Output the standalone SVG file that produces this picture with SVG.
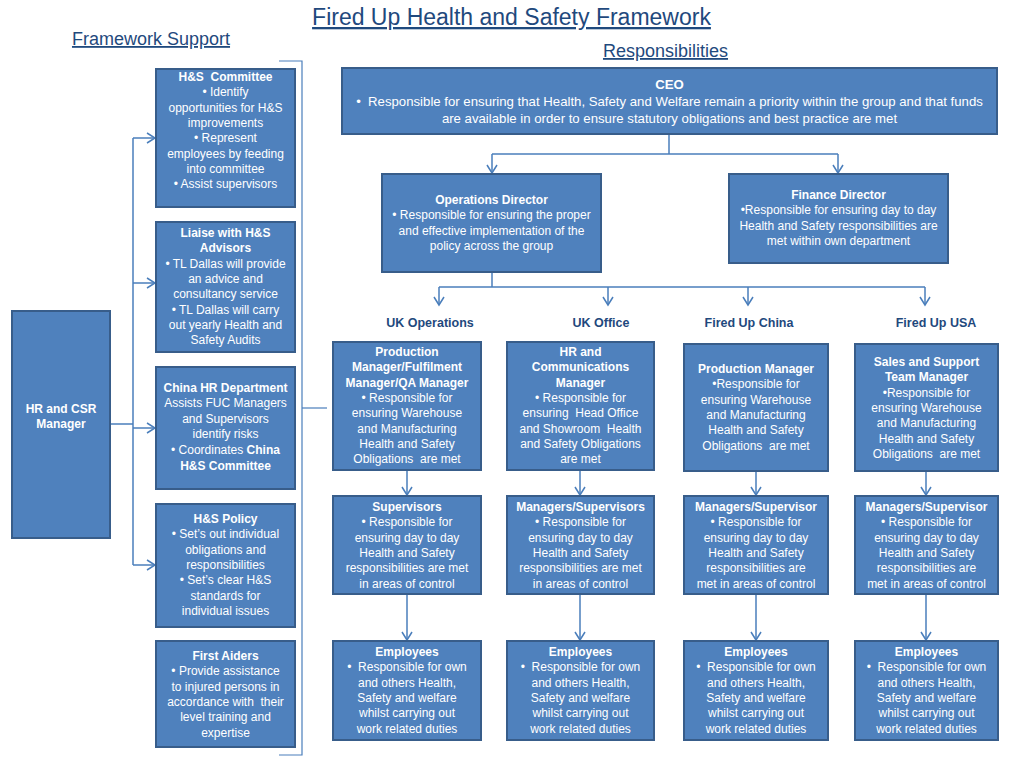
<svg xmlns="http://www.w3.org/2000/svg" width="1024" height="768" viewBox="0 0 1024 768">
<style>
.box{fill:#4F81BD;stroke:#385D8A;stroke-width:2}
.t{font-family:"Liberation Sans",Arial,sans-serif;font-size:12px;fill:#FFFFFF;text-anchor:middle}
.ceo{font-size:13.2px}
.b{font-weight:bold}
.hd{font-family:"Liberation Sans",Arial,sans-serif;fill:#1F497D;text-anchor:middle;text-decoration:underline}
.lbl{font-family:"Liberation Sans",Arial,sans-serif;font-size:12.5px;font-weight:bold;fill:#1F497D;text-anchor:middle}
.c{fill:none;stroke:#4A7EBB;stroke-width:1.5}
.br{fill:none;stroke:#4A7EBB;stroke-width:1.2}
</style>
<defs>
<marker id="ah" markerUnits="userSpaceOnUse" markerWidth="12" markerHeight="12" viewBox="0 0 12 12" refX="10" refY="6" orient="auto">
<path d="M2,1 L10,6 L2,11" fill="none" stroke="#4A7EBB" stroke-width="1.5"/>
</marker>
</defs>
<rect width="1024" height="768" fill="#FFFFFF"/>
<g id="titles">
<text class="hd" x="511.5" y="25" style="font-size:23px">Fired Up Health and Safety Framework</text>
<text class="hd" x="151" y="45" style="font-size:18px">Framework Support</text>
<text class="hd" x="665.5" y="57" style="font-size:18px">Responsibilities</text>
</g>
<g id="connectors">
<polyline class="br" points="279,61 302,61 302,755 279,755"/>
<line class="br" x1="302" y1="408" x2="327" y2="408"/>
<polyline class="c" points="110,424 133,424"/>
<line class="c" x1="133" y1="138" x2="133" y2="565"/>
<line class="c" x1="133" y1="138" x2="155" y2="138" marker-end="url(#ah)"/>
<line class="c" x1="133" y1="283" x2="155" y2="283" marker-end="url(#ah)"/>
<line class="c" x1="133" y1="428" x2="155" y2="428" marker-end="url(#ah)"/>
<line class="c" x1="133" y1="565" x2="155" y2="565" marker-end="url(#ah)"/>
<line class="c" x1="669" y1="134" x2="669" y2="154"/>
<line class="c" x1="492" y1="154" x2="838" y2="154"/>
<line class="c" x1="492" y1="154" x2="492" y2="173" marker-end="url(#ah)"/>
<line class="c" x1="838" y1="154" x2="838" y2="173" marker-end="url(#ah)"/>
<line class="c" x1="492" y1="272" x2="492" y2="287"/>
<line class="c" x1="439" y1="287" x2="925" y2="287"/>
<line class="c" x1="439" y1="287" x2="439" y2="305" marker-end="url(#ah)"/>
<line class="c" x1="608" y1="287" x2="608" y2="305" marker-end="url(#ah)"/>
<line class="c" x1="748" y1="287" x2="748" y2="305" marker-end="url(#ah)"/>
<line class="c" x1="925" y1="287" x2="925" y2="305" marker-end="url(#ah)"/>
<line class="c" x1="407" y1="470" x2="407" y2="495" marker-end="url(#ah)"/>
<line class="c" x1="407" y1="594" x2="407" y2="640" marker-end="url(#ah)"/>
<line class="c" x1="580" y1="470" x2="580" y2="495" marker-end="url(#ah)"/>
<line class="c" x1="580" y1="594" x2="580" y2="640" marker-end="url(#ah)"/>
<line class="c" x1="756" y1="471" x2="756" y2="495" marker-end="url(#ah)"/>
<line class="c" x1="756" y1="594" x2="756" y2="640" marker-end="url(#ah)"/>
<line class="c" x1="926" y1="471" x2="926" y2="495" marker-end="url(#ah)"/>
<line class="c" x1="926" y1="594" x2="926" y2="640" marker-end="url(#ah)"/>
</g>
<g id="labels">
<text class="lbl" x="430" y="327">UK Operations</text>
<text class="lbl" x="601" y="327">UK Office</text>
<text class="lbl" x="749" y="327">Fired Up China</text>
<text class="lbl" x="936" y="327">Fired Up USA</text>
</g>
<g id="hr-csr">
<rect class="box" x="12" y="311" width="98" height="227"/>
<text class="t b" x="61" y="413">HR and CSR</text>
<text class="t b" x="61" y="428">Manager</text>
</g>
<g id="hs-committee">
<rect class="box" x="156" y="69" width="139" height="138"/>
<text class="t"><tspan class="b" x="225.5" y="81">H&amp;S&#160; Committee</tspan><tspan x="225.5" y="96.3">• Identify</tspan><tspan x="225.5" y="111.6">opportunities for H&amp;S</tspan><tspan x="225.5" y="126.9">improvements</tspan><tspan x="225.5" y="142.2">• Represent</tspan><tspan x="225.5" y="157.5">employees by feeding</tspan><tspan x="225.5" y="172.8">into committee</tspan><tspan x="225.5" y="188.1">• Assist supervisors</tspan></text>
</g>
<g id="liaise">
<rect class="box" x="156" y="222" width="139" height="130"/>
<text class="t"><tspan class="b" x="225.5" y="237">Liaise with H&amp;S</tspan><tspan class="b" x="225.5" y="252.3">Advisors</tspan><tspan x="225.5" y="267.6">• TL Dallas will provide</tspan><tspan x="225.5" y="282.9">an advice and</tspan><tspan x="225.5" y="298.2">consultancy service</tspan><tspan x="225.5" y="313.5">• TL Dallas will carry</tspan><tspan x="225.5" y="328.8">out yearly Health and</tspan><tspan x="225.5" y="344.1">Safety Audits</tspan></text>
</g>
<g id="china-hr">
<rect class="box" x="156" y="367" width="139" height="122"/>
<text class="t"><tspan class="b" x="225.5" y="392">China HR Department</tspan><tspan x="225.5" y="407.3">Assists FUC Managers</tspan><tspan x="225.5" y="422.6">and Supervisors</tspan><tspan x="225.5" y="437.9">identify risks</tspan><tspan x="225.5" y="454.2">• Coordinates <tspan class="b">China</tspan></tspan><tspan class="b" x="225.5" y="469.5">H&amp;S Committee</tspan></text>
</g>
<g id="hs-policy">
<rect class="box" x="156" y="504" width="139" height="123"/>
<text class="t"><tspan class="b" x="225.5" y="523">H&amp;S Policy</tspan><tspan x="225.5" y="538.3">• Set’s out individual</tspan><tspan x="225.5" y="553.6">obligations and</tspan><tspan x="225.5" y="568.9">responsibilities</tspan><tspan x="225.5" y="584.2">• Set’s clear H&amp;S</tspan><tspan x="225.5" y="599.5">standards for</tspan><tspan x="225.5" y="614.8">individual issues</tspan></text>
</g>
<g id="first-aiders">
<rect class="box" x="156" y="641" width="139" height="106"/>
<text class="t"><tspan class="b" x="225.5" y="660">First Aiders</tspan><tspan x="225.5" y="675.3">• Provide assistance</tspan><tspan x="225.5" y="690.6">to injured persons in</tspan><tspan x="225.5" y="705.9">accordance with&#160; their</tspan><tspan x="225.5" y="721.2">level training and</tspan><tspan x="225.5" y="736.5">expertise</tspan></text>
</g>
<g id="ceo">
<rect class="box" x="342" y="68" width="655" height="66"/>
<text class="t ceo"><tspan class="b" x="669.5" y="89">CEO</tspan><tspan x="669.5" y="106">•&#160; Responsible for ensuring that Health, Safety and Welfare remain a priority within the group and that funds</tspan><tspan x="669.5" y="123">are available in order to ensure statutory obligations and best practice are met</tspan></text>
</g>
<g id="ops-director">
<rect class="box" x="382" y="174" width="219" height="98"/>
<text class="t"><tspan class="b" x="491.5" y="204">Operations Director</tspan><tspan x="491.5" y="219.3">• Responsible for ensuring the proper</tspan><tspan x="491.5" y="234.6">and effective implementation of the</tspan><tspan x="491.5" y="249.9">policy across the group</tspan></text>
</g>
<g id="finance-director">
<rect class="box" x="729" y="174" width="219" height="89"/>
<text class="t"><tspan class="b" x="838.5" y="199">Finance Director</tspan><tspan x="838.5" y="214.3">•Responsible for ensuring day to day</tspan><tspan x="838.5" y="229.6">Health and Safety responsibilities are</tspan><tspan x="838.5" y="244.9">met within own department</tspan></text>
</g>
<g id="uk-ops-manager">
<rect class="box" x="333" y="342" width="148" height="128"/>
<text class="t"><tspan class="b" x="407" y="356">Production</tspan><tspan class="b" x="407" y="371.3">Manager/Fulfilment</tspan><tspan class="b" x="407" y="386.6">Manager/QA Manager</tspan><tspan x="407" y="401.9">• Responsible for</tspan><tspan x="407" y="417.2">ensuring Warehouse</tspan><tspan x="407" y="432.5">and Manufacturing</tspan><tspan x="407" y="447.8">Health and Safety</tspan><tspan x="407" y="463.1">Obligations&#160; are met</tspan></text>
</g>
<g id="uk-office-manager">
<rect class="box" x="507" y="342" width="147" height="128"/>
<text class="t"><tspan class="b" x="580.5" y="356">HR and</tspan><tspan class="b" x="580.5" y="371.3">Communications</tspan><tspan class="b" x="580.5" y="386.6">Manager</tspan><tspan x="580.5" y="401.9">• Responsible for</tspan><tspan x="580.5" y="417.2">ensuring&#160; Head Office</tspan><tspan x="580.5" y="432.5">and Showroom&#160; Health</tspan><tspan x="580.5" y="447.8">and Safety Obligations</tspan><tspan x="580.5" y="463.1">are met</tspan></text>
</g>
<g id="china-manager">
<rect class="box" x="684" y="344" width="144" height="127"/>
<text class="t"><tspan class="b" x="756" y="373">Production Manager</tspan><tspan x="756" y="388.3">•Responsible for</tspan><tspan x="756" y="403.6">ensuring Warehouse</tspan><tspan x="756" y="418.9">and Manufacturing</tspan><tspan x="756" y="434.2">Health and Safety</tspan><tspan x="756" y="449.5">Obligations&#160; are met</tspan></text>
</g>
<g id="usa-manager">
<rect class="box" x="855" y="344" width="143" height="127"/>
<text class="t"><tspan class="b" x="926.5" y="366">Sales and Support</tspan><tspan class="b" x="926.5" y="381.3">Team Manager</tspan><tspan x="926.5" y="396.6">•Responsible for</tspan><tspan x="926.5" y="411.9">ensuring Warehouse</tspan><tspan x="926.5" y="427.2">and Manufacturing</tspan><tspan x="926.5" y="442.5">Health and Safety</tspan><tspan x="926.5" y="457.8">Obligations&#160; are met</tspan></text>
</g>
<g id="uk-ops-supervisors">
<rect class="box" x="333" y="496" width="148" height="98"/>
<text class="t"><tspan class="b" x="407" y="511">Supervisors</tspan><tspan x="407" y="526.3">• Responsible for</tspan><tspan x="407" y="541.6">ensuring day to day</tspan><tspan x="407" y="556.9">Health and Safety</tspan><tspan x="407" y="572.2">responsibilities are met</tspan><tspan x="407" y="587.5">in areas of control</tspan></text>
</g>
<g id="uk-office-supervisors">
<rect class="box" x="507" y="496" width="147" height="98"/>
<text class="t"><tspan class="b" x="580.5" y="511">Managers/Supervisors</tspan><tspan x="580.5" y="526.3">• Responsible for</tspan><tspan x="580.5" y="541.6">ensuring day to day</tspan><tspan x="580.5" y="556.9">Health and Safety</tspan><tspan x="580.5" y="572.2">responsibilities are met</tspan><tspan x="580.5" y="587.5">in areas of control</tspan></text>
</g>
<g id="china-supervisor">
<rect class="box" x="684" y="496" width="144" height="98"/>
<text class="t"><tspan class="b" x="756" y="511">Managers/Supervisor</tspan><tspan x="756" y="526.3">• Responsible for</tspan><tspan x="756" y="541.6">ensuring day to day</tspan><tspan x="756" y="556.9">Health and Safety</tspan><tspan x="756" y="572.2">responsibilities are</tspan><tspan x="756" y="587.5">met in areas of control</tspan></text>
</g>
<g id="usa-supervisor">
<rect class="box" x="855" y="496" width="143" height="98"/>
<text class="t"><tspan class="b" x="926.5" y="511">Managers/Supervisor</tspan><tspan x="926.5" y="526.3">• Responsible for</tspan><tspan x="926.5" y="541.6">ensuring day to day</tspan><tspan x="926.5" y="556.9">Health and Safety</tspan><tspan x="926.5" y="572.2">responsibilities are</tspan><tspan x="926.5" y="587.5">met in areas of control</tspan></text>
</g>
<g id="uk-ops-employees">
<rect class="box" x="333" y="641" width="148" height="99"/>
<text class="t"><tspan class="b" x="407" y="656">Employees</tspan><tspan x="407" y="671.3">•&#160; Responsible for own</tspan><tspan x="407" y="686.6">and others Health,</tspan><tspan x="407" y="701.9">Safety and welfare</tspan><tspan x="407" y="717.2">whilst carrying out</tspan><tspan x="407" y="732.5">work related duties</tspan></text>
</g>
<g id="uk-office-employees">
<rect class="box" x="507" y="641" width="147" height="99"/>
<text class="t"><tspan class="b" x="580.5" y="656">Employees</tspan><tspan x="580.5" y="671.3">•&#160; Responsible for own</tspan><tspan x="580.5" y="686.6">and others Health,</tspan><tspan x="580.5" y="701.9">Safety and welfare</tspan><tspan x="580.5" y="717.2">whilst carrying out</tspan><tspan x="580.5" y="732.5">work related duties</tspan></text>
</g>
<g id="china-employees">
<rect class="box" x="684" y="641" width="144" height="99"/>
<text class="t"><tspan class="b" x="756" y="656">Employees</tspan><tspan x="756" y="671.3">•&#160; Responsible for own</tspan><tspan x="756" y="686.6">and others Health,</tspan><tspan x="756" y="701.9">Safety and welfare</tspan><tspan x="756" y="717.2">whilst carrying out</tspan><tspan x="756" y="732.5">work related duties</tspan></text>
</g>
<g id="usa-employees">
<rect class="box" x="855" y="641" width="143" height="99"/>
<text class="t"><tspan class="b" x="926.5" y="656">Employees</tspan><tspan x="926.5" y="671.3">•&#160; Responsible for own</tspan><tspan x="926.5" y="686.6">and others Health,</tspan><tspan x="926.5" y="701.9">Safety and welfare</tspan><tspan x="926.5" y="717.2">whilst carrying out</tspan><tspan x="926.5" y="732.5">work related duties</tspan></text>
</g>
</svg>
